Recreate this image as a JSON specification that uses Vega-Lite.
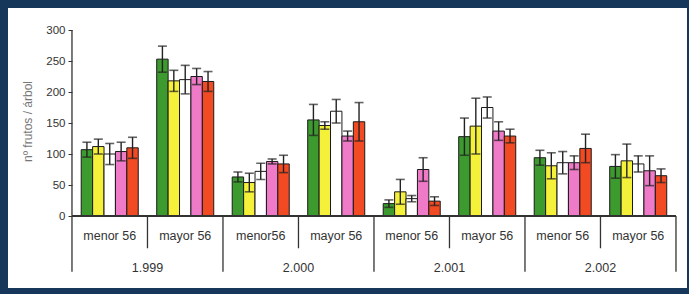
{
  "$schema": "https://vega.github.io/schema/vega-lite/v6.json",
  "width": 679,
  "height": 280,
  "autosize": {"type": "none"},
  "padding": {"left": 8, "top": 8, "right": 2, "bottom": 6},
  "background": "#16365a",
  "config": {
    "view": {"fill": "white", "stroke": null},
    "font": "Liberation Sans"
  },
  "datasets": {
    "bars": [
      {"grp": "1.999|menor 56", "s": "A", "v": 107, "e": 12},
      {"grp": "1.999|menor 56", "s": "B", "v": 112, "e": 12},
      {"grp": "1.999|menor 56", "s": "C", "v": 100, "e": 17},
      {"grp": "1.999|menor 56", "s": "D", "v": 104, "e": 15},
      {"grp": "1.999|menor 56", "s": "E", "v": 110, "e": 17},
      {"grp": "1.999|mayor 56", "s": "A", "v": 253, "e": 21},
      {"grp": "1.999|mayor 56", "s": "B", "v": 218, "e": 17},
      {"grp": "1.999|mayor 56", "s": "C", "v": 220, "e": 23},
      {"grp": "1.999|mayor 56", "s": "D", "v": 225, "e": 13},
      {"grp": "1.999|mayor 56", "s": "E", "v": 217, "e": 16},
      {"grp": "2.000|menor56", "s": "A", "v": 63, "e": 8},
      {"grp": "2.000|menor56", "s": "B", "v": 54, "e": 15},
      {"grp": "2.000|menor56", "s": "C", "v": 72, "e": 13},
      {"grp": "2.000|menor56", "s": "D", "v": 88, "e": 4},
      {"grp": "2.000|menor56", "s": "E", "v": 84, "e": 14},
      {"grp": "2.000|mayor 56", "s": "A", "v": 155, "e": 25},
      {"grp": "2.000|mayor 56", "s": "B", "v": 146, "e": 6},
      {"grp": "2.000|mayor 56", "s": "C", "v": 169, "e": 19},
      {"grp": "2.000|mayor 56", "s": "D", "v": 129, "e": 8},
      {"grp": "2.000|mayor 56", "s": "E", "v": 152, "e": 31},
      {"grp": "2.001|menor 56", "s": "A", "v": 20, "e": 6},
      {"grp": "2.001|menor 56", "s": "B", "v": 39, "e": 20},
      {"grp": "2.001|menor 56", "s": "C", "v": 28, "e": 5},
      {"grp": "2.001|menor 56", "s": "D", "v": 75, "e": 19},
      {"grp": "2.001|menor 56", "s": "E", "v": 24, "e": 7},
      {"grp": "2.001|mayor 56", "s": "A", "v": 128, "e": 30},
      {"grp": "2.001|mayor 56", "s": "B", "v": 145, "e": 45},
      {"grp": "2.001|mayor 56", "s": "C", "v": 175, "e": 17},
      {"grp": "2.001|mayor 56", "s": "D", "v": 137, "e": 15},
      {"grp": "2.001|mayor 56", "s": "E", "v": 129, "e": 11},
      {"grp": "2.002|menor 56", "s": "A", "v": 94, "e": 12},
      {"grp": "2.002|menor 56", "s": "B", "v": 81, "e": 21},
      {"grp": "2.002|menor 56", "s": "C", "v": 86, "e": 18},
      {"grp": "2.002|menor 56", "s": "D", "v": 86, "e": 11},
      {"grp": "2.002|menor 56", "s": "E", "v": 109, "e": 23},
      {"grp": "2.002|mayor 56", "s": "A", "v": 80, "e": 19},
      {"grp": "2.002|mayor 56", "s": "B", "v": 89, "e": 27},
      {"grp": "2.002|mayor 56", "s": "C", "v": 84, "e": 13},
      {"grp": "2.002|mayor 56", "s": "D", "v": 73, "e": 24},
      {"grp": "2.002|mayor 56", "s": "E", "v": 65, "e": 11}
    ],
    "cats": [
      {"grp": "1.999|menor 56", "label": "menor 56", "year": "1.999", "first": true},
      {"grp": "1.999|mayor 56", "label": "mayor 56", "year": "1.999", "first": false},
      {"grp": "2.000|menor56", "label": "menor56", "year": "2.000", "first": true},
      {"grp": "2.000|mayor 56", "label": "mayor 56", "year": "2.000", "first": false},
      {"grp": "2.001|menor 56", "label": "menor 56", "year": "2.001", "first": true},
      {"grp": "2.001|mayor 56", "label": "mayor 56", "year": "2.001", "first": false},
      {"grp": "2.002|menor 56", "label": "menor 56", "year": "2.002", "first": true},
      {"grp": "2.002|mayor 56", "label": "mayor 56", "year": "2.002", "first": false}
    ]
  },
  "layer": [
    {
      "data": {"name": "bars"},
      "transform": [
        {"calculate": "datum.v - datum.e", "as": "lo"},
        {"calculate": "datum.v + datum.e", "as": "hi"}
      ],
      "encoding": {
        "x": {
          "field": "grp", "type": "nominal", "sort": null,
          "scale": {
            "domain": ["1.999|menor 56", "1.999|mayor 56", "2.000|menor56", "2.000|mayor 56", "2.001|menor 56", "2.001|mayor 56", "2.002|menor 56", "2.002|mayor 56"],
            "paddingInner": 0, "paddingOuter": 0.4967, "align": 0.853
          },
          "axis": null
        },
        "xOffset": {
          "field": "s", "type": "nominal",
          "scale": {"paddingInner": 0, "paddingOuter": 0.81}
        }
      },
      "layer": [
        {
          "mark": {"type": "bar", "stroke": "#1a1a1a", "strokeWidth": 1},
          "encoding": {
            "y": {
              "field": "v", "type": "quantitative",
              "scale": {"domain": [-116.1, 335.5], "nice": false, "zero": false},
              "axis": {
                "values": [0, 50, 100, 150, 200, 250, 300],
                "offset": -64,
                "domain": false,
                "grid": false,
                "tickSize": 4,
                "tickColor": "#333",
                "labelPadding": 3,
                "labelFontSize": 11.5,
                "labelColor": "#333",
                "title": "nº frutos / árbol",
                "titleFontWeight": "normal",
                "titleFontSize": 12,
                "titleColor": "#777",
                "titleX": -45,
                "titleY": 113,
                "titleAngle": -90,
                "titleAlign": "center",
                "titleBaseline": "middle"
              }
            },
            "color": {
              "field": "s", "type": "nominal",
              "scale": {
                "domain": ["A", "B", "C", "D", "E"],
                "range": ["#3d9a2e", "#f5f03a", "#ffffff", "#ee7ac8", "#f24a22"]
              },
              "legend": null
            }
          }
        },
        {
          "mark": {"type": "rule", "color": "#222", "strokeWidth": 1.4},
          "encoding": {
            "y": {"field": "lo", "type": "quantitative"},
            "y2": {"field": "hi"}
          }
        },
        {
          "mark": {"type": "tick", "color": "#222", "size": 9, "thickness": 1.6},
          "encoding": {"y": {"field": "hi", "type": "quantitative"}}
        },
        {
          "mark": {"type": "tick", "color": "#222", "size": 9, "thickness": 1.6},
          "encoding": {"y": {"field": "lo", "type": "quantitative"}}
        }
      ]
    },
    {
      "data": {"name": "cats"},
      "mark": {"type": "rule", "color": "#333", "strokeWidth": 1.3},
      "encoding": {
        "x": {"datum": "1.999|menor 56", "type": "nominal", "bandPosition": 0},
        "x2": {"datum": "2.002|mayor 56", "bandPosition": 1},
        "y": {"datum": 0, "type": "quantitative"}
      }
    },
    {
      "data": {"name": "cats"},
      "transform": [{"filter": "datum.first"}],
      "mark": {"type": "rule", "color": "#333", "strokeWidth": 1.3},
      "encoding": {
        "x": {"field": "grp", "type": "nominal", "sort": null, "bandPosition": 0},
        "y": {"datum": 0, "type": "quantitative"},
        "y2": {"datum": -90}
      }
    },
    {
      "data": {"name": "cats"},
      "transform": [{"filter": "!datum.first"}],
      "mark": {"type": "rule", "color": "#333", "strokeWidth": 1.3},
      "encoding": {
        "x": {"field": "grp", "type": "nominal", "sort": null, "bandPosition": 0},
        "y": {"datum": 0, "type": "quantitative"},
        "y2": {"datum": -52}
      }
    },
    {
      "data": {"name": "cats"},
      "transform": [{"filter": "datum.grp == '1.999|menor 56'"}],
      "mark": {"type": "rule", "color": "#333", "strokeWidth": 1.3},
      "encoding": {
        "x": {"field": "grp", "type": "nominal", "sort": null, "bandPosition": 0},
        "y": {"datum": 0, "type": "quantitative"},
        "y2": {"datum": 300}
      }
    },
    {
      "data": {"name": "cats"},
      "transform": [{"filter": "datum.grp == '2.002|mayor 56'"}],
      "mark": {"type": "rule", "color": "#333", "strokeWidth": 1.3},
      "encoding": {
        "x": {"field": "grp", "type": "nominal", "sort": null, "bandPosition": 1},
        "y": {"datum": 0, "type": "quantitative"},
        "y2": {"datum": -90}
      }
    },
    {
      "data": {"name": "cats"},
      "mark": {"type": "text", "fontSize": 12.5, "color": "#333", "baseline": "middle"},
      "encoding": {
        "x": {"field": "grp", "type": "nominal", "sort": null},
        "y": {"datum": -33, "type": "quantitative"},
        "text": {"field": "label"}
      }
    },
    {
      "data": {"name": "cats"},
      "transform": [{"filter": "!datum.first"}],
      "mark": {"type": "text", "fontSize": 12.5, "color": "#333", "baseline": "middle"},
      "encoding": {
        "x": {"field": "grp", "type": "nominal", "sort": null, "bandPosition": 0},
        "y": {"datum": -84, "type": "quantitative"},
        "text": {"field": "year"}
      }
    }
  ]
}
